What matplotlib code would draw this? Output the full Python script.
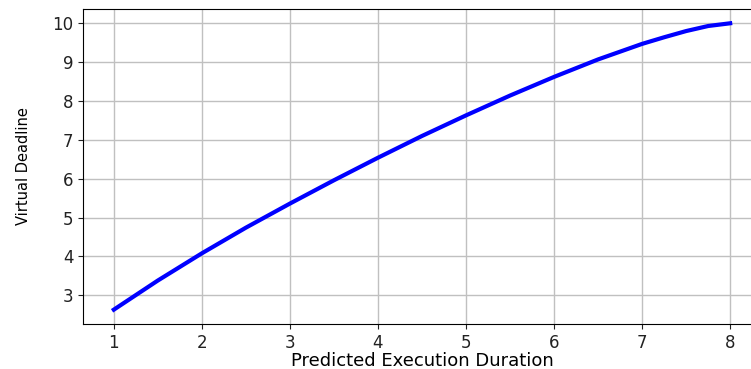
import matplotlib
matplotlib.use('Agg')
import matplotlib.pyplot as plt

# predicted execution duration vs virtual deadline
duration = [1.0, 1.5, 2.0, 2.5, 3.0, 3.5, 4.0, 4.5, 5.0, 5.5, 6.0, 6.5, 7.0, 7.25, 7.5, 7.75, 8.0]
deadline = [2.63, 3.38, 4.08, 4.74, 5.36, 5.96, 6.54, 7.10, 7.63, 8.14, 8.62, 9.07, 9.47, 9.64, 9.80, 9.93, 10.0]

xticks = [1, 2, 3, 4, 5, 6, 7, 8]
yticks = [3, 4, 5, 6, 7, 8, 9, 10]

fig = plt.figure(figsize=(7.51, 3.69), dpi=100)
ax = fig.add_axes([0.1105, 0.122, 0.9028, 0.8537])
ax.plot(duration, deadline, color='blue', linewidth=3)
ax.set_xticks(xticks)
ax.set_yticks(yticks)
ax.tick_params(labelsize=12, colors='#222222', length=3.5)
ax.grid(True, color='#c0c0c0', linewidth=1.0)
ax.set_xlabel('Predicted Execution Duration', fontsize=13, labelpad=0)
ax.set_ylabel('Virtual Deadline', fontsize=10.5, labelpad=15)

fig.savefig('out.png', dpi=100)
